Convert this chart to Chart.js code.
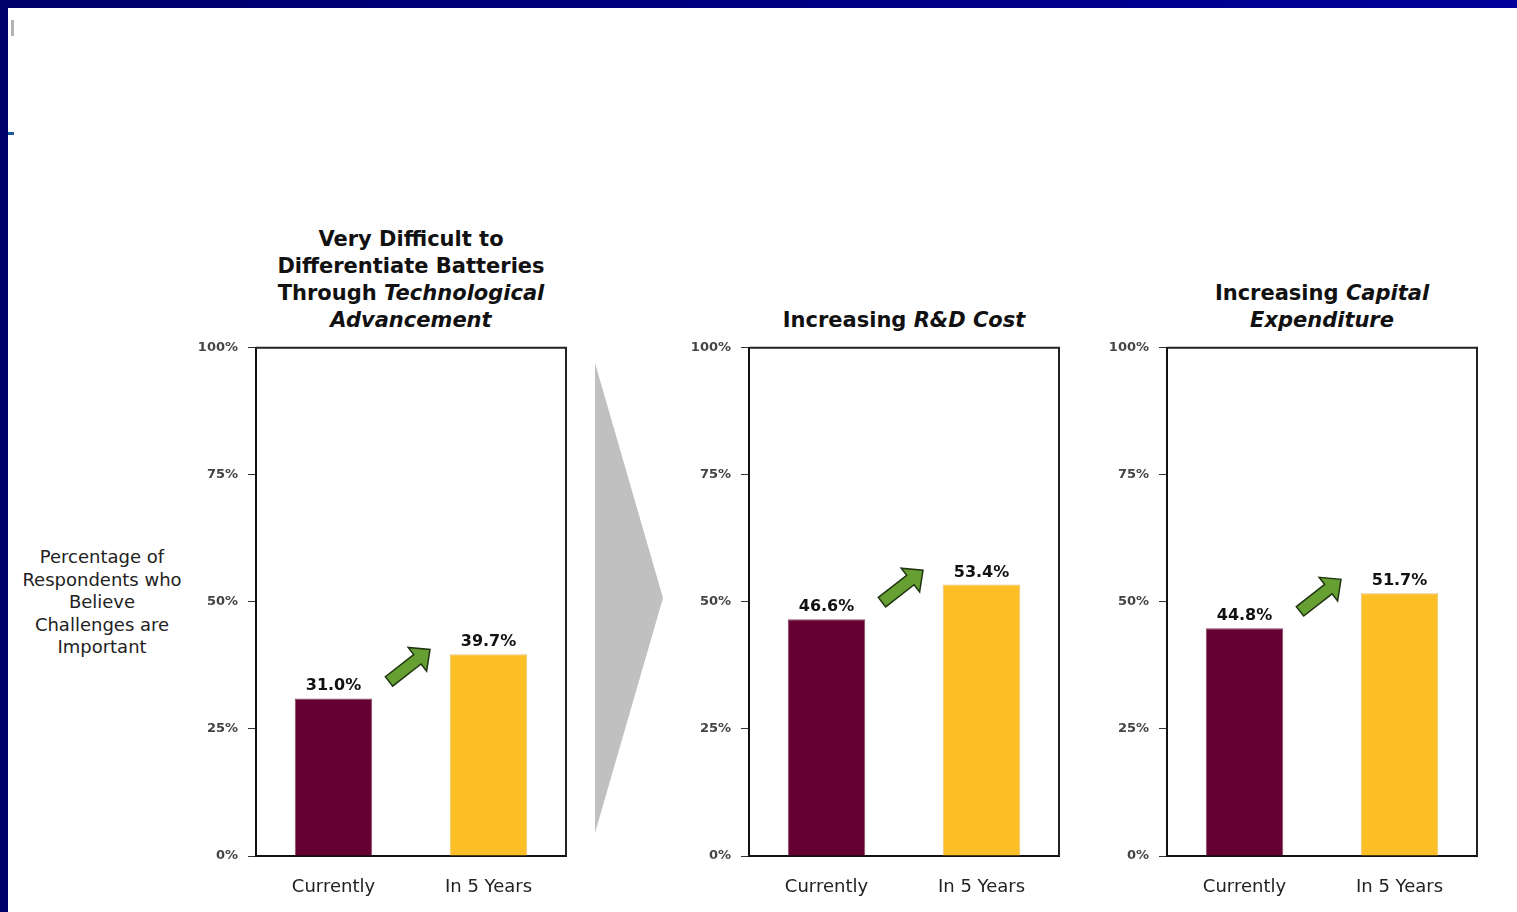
<!DOCTYPE html>
<html>
<head>
<meta charset="utf-8">
<title>Battery industry challenges</title>
<script src="https://cdn.jsdelivr.net/npm/chart.js@4.4.1/dist/chart.umd.min.js"></script>
<style>
  html, body { margin: 0; padding: 0; background: #fff; }
  #slide {
    position: relative; width: 1517px; height: 912px; overflow: hidden;
    background: #fff; font-family: "DejaVu Sans", sans-serif; color: #111;
  }
  .edge-top { position: absolute; left: 0; top: 0; width: 1517px; height: 8px;
    background: linear-gradient(to right, #00006a, #00009a); }
  .edge-left { position: absolute; left: 0; top: 0; width: 8px; height: 912px; background: #00006a; }
  .mark-gray { position: absolute; left: 11px; top: 20px; width: 3px; height: 16px; background: #b4b4b4; }
  .mark-blue { position: absolute; left: 8px; top: 132px; width: 6px; height: 3px; background: #1a5a9a; }
  .chart-box { position: absolute; top: 330px; }
  .title {
    position: absolute; bottom: 578px; width: 380px; text-align: center;
    font-weight: bold; font-size: 21px; line-height: 27px;
  }
  .axis-note {
    position: absolute; left: 8px; top: 546px; width: 188px; text-align: center;
    font-size: 18px; line-height: 22.5px; color: #222;
  }
  .chevron {
    position: absolute; left: 595px; top: 363px; width: 68px; height: 470px;
    background: #c0c0c0; clip-path: polygon(0 0, 100% 50%, 0 100%);
  }
</style>
</head>
<body>
<div id="slide">
  <div class="edge-top"></div>
  <div class="edge-left"></div>
  <div class="mark-gray"></div>
  <div class="mark-blue"></div>

  <div class="title" style="left:221px">Very Difficult to<br>Differentiate Batteries<br>Through <i>Technological<br>Advancement</i></div>
  <div class="title" style="left:714px">Increasing <i>R&amp;D Cost</i></div>
  <div class="title" style="left:1132px">Increasing <i>Capital<br>Expenditure</i></div>

  <div class="axis-note">Percentage of<br>Respondents who<br>Believe<br>Challenges are<br>Important</div>

  <div class="chevron"></div>

  <div class="chart-box" style="left:176px"><canvas id="techChart" width="402" height="580"></canvas></div>
  <div class="chart-box" style="left:669px"><canvas id="rdChart" width="402" height="580"></canvas></div>
  <div class="chart-box" style="left:1087px"><canvas id="capexChart" width="402" height="580"></canvas></div>
</div>

<script>
const categories = ['Currently', 'In 5 Years'];
const techValues = [31.0, 39.7];
const rdValues = [46.6, 53.4];
const capexValues = [44.8, 51.7];
const yTicks = [0, 25, 50, 75, 100];
const barColors = ['#660033', '#fdbf26'];
const barEdges = ['#8a4d6a', '#e6c07a'];

Chart.defaults.font.family = '"DejaVu Sans", sans-serif';

// top and right sides of the plot frame (left/bottom come from the axis borders)
const frameLines = {
  id: 'frameLines',
  afterDraw(chart) {
    const { ctx, chartArea: a } = chart;
    ctx.save();
    ctx.strokeStyle = '#222';
    ctx.lineWidth = 2;
    ctx.beginPath();
    ctx.moveTo(a.left, a.top);
    ctx.lineTo(a.right, a.top);
    ctx.lineTo(a.right, a.bottom);
    ctx.stroke();
    ctx.restore();
  }
};

// percentage written above each bar
const valueLabels = {
  id: 'valueLabels',
  afterDatasetsDraw(chart) {
    const { ctx } = chart;
    const values = chart.data.datasets[0].data;
    ctx.save();
    ctx.font = 'bold 16px "DejaVu Sans"';
    ctx.fillStyle = '#111';
    ctx.textAlign = 'center';
    ctx.textBaseline = 'alphabetic';
    chart.getDatasetMeta(0).data.forEach((bar, i) => {
      ctx.fillText(values[i].toFixed(1) + '%', bar.x, bar.y - 8);
    });
    ctx.restore();
  }
};

// green block arrow between the two bars
const riseArrow = {
  id: 'riseArrow',
  afterDatasetsDraw(chart) {
    const bars = chart.getDatasetMeta(0).data;
    const ctx = chart.ctx;
    const mid = (bars[0].x + bars[1].x) / 2;
    const x0 = mid - 22, y0 = bars[0].y - 17;
    const dx = 41, dy = -32;
    const len = Math.hypot(dx, dy);
    const shaft = 6, head = 15, headLen = 16;
    ctx.save();
    ctx.translate(x0, y0);
    ctx.rotate(Math.atan2(dy, dx));
    ctx.beginPath();
    ctx.moveTo(0, -shaft);
    ctx.lineTo(len - headLen, -shaft);
    ctx.lineTo(len - headLen, -head);
    ctx.lineTo(len, 0);
    ctx.lineTo(len - headLen, head);
    ctx.lineTo(len - headLen, shaft);
    ctx.lineTo(0, shaft);
    ctx.closePath();
    ctx.fillStyle = '#66a033';
    ctx.fill();
    ctx.lineWidth = 1.5;
    ctx.strokeStyle = '#213411';
    ctx.stroke();
    ctx.restore();
  }
};

function makeChart(canvasId, values) {
  const ctx = document.getElementById(canvasId);
  if (!ctx) return;

  new Chart(ctx, {
    type: 'bar',
    data: {
      labels: categories,
      datasets: [{
        data: values,
        backgroundColor: barColors,
        borderColor: barEdges,
        borderWidth: 1,
        barPercentage: 0.5,
        categoryPercentage: 1
      }]
    },
    options: {
      responsive: false,
      animation: false,
      layout: { padding: { top: 15, right: 12, left: 0, bottom: 0 } },
      plugins: {
        legend: { display: false },
        tooltip: { enabled: false }
      },
      scales: {
        x: {
          grid: { display: false, drawTicks: false },
          border: { display: true, color: '#111', width: 2 },
          ticks: { color: '#222', font: { size: 18 }, padding: 21 },
          afterFit(scale) { scale.height = 54; }
        },
        y: {
          min: 0,
          max: 100,
          afterBuildTicks(scale) { scale.ticks = yTicks.map(v => ({ value: v })); },
          grid: { drawOnChartArea: false, drawTicks: true, tickLength: 8, color: '#333' },
          border: { display: true, color: '#111', width: 2 },
          ticks: { color: '#444', font: { size: 13, weight: 'bold' }, padding: 10, callback: v => v + '%' },
          afterFit(scale) { scale.width = 80; }
        }
      }
    },
    plugins: [frameLines, valueLabels, riseArrow]
  });
}

makeChart('techChart', techValues);
makeChart('rdChart', rdValues);
makeChart('capexChart', capexValues);
</script>
</body>
</html>
